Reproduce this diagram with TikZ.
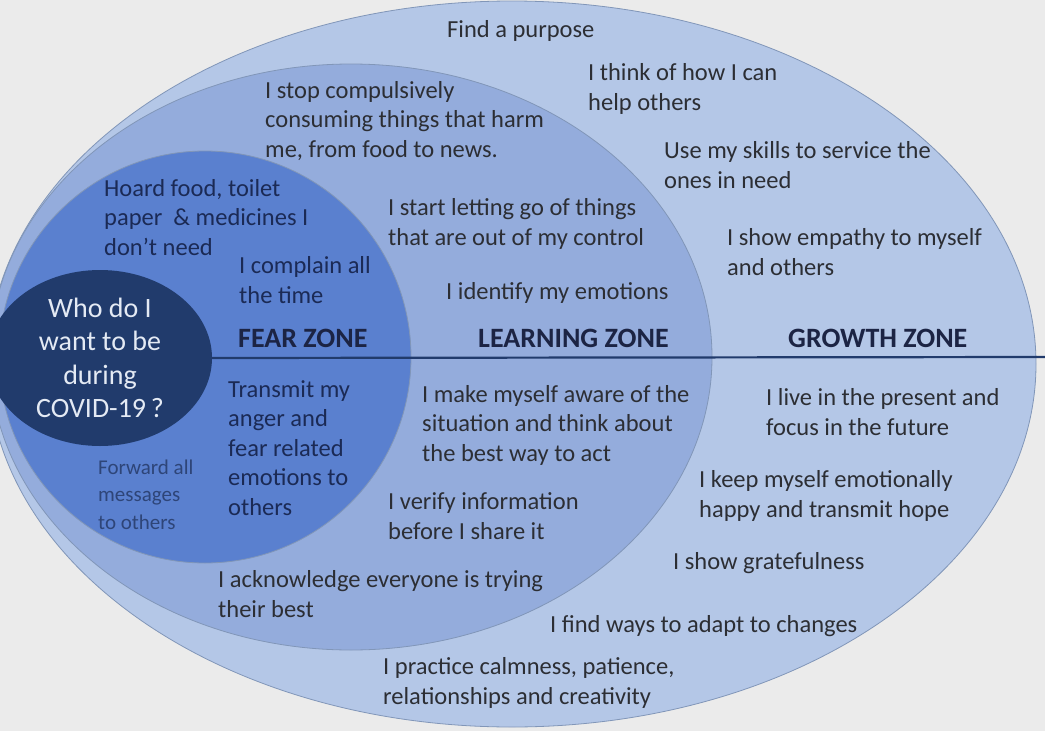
\documentclass[tikz,border=0pt]{standalone}
\usepackage{fontspec}
\setmainfont{Carlito}
\usetikzlibrary{shapes.geometric}
\definecolor{bggray}{HTML}{EBEBEB}
\definecolor{growthblue}{HTML}{B4C7E7}
\definecolor{learnblue}{HTML}{94ACDC}
\definecolor{fearblue}{HTML}{5A80CF}
\definecolor{corenavy}{HTML}{213B6C}
\definecolor{edgegray}{HTML}{8196B8}
\definecolor{corewhite}{HTML}{E4EAF4}
\definecolor{txtgray}{HTML}{2C2E34}
\definecolor{fearnavy}{HTML}{1B2A55}
\definecolor{fwdblue}{HTML}{2E4578}
\definecolor{lblnavy}{HTML}{1C2444}
\tikzset{
    zone/.style={draw=edgegray, line width=0.8pt},
    growth/.style={zone, fill=growthblue},
    learning/.style={zone, fill=learnblue},
    fear/.style={zone, fill=fearblue},
    core/.style={ellipse, fill=corenavy, text=corewhite, minimum width=224pt, minimum height=176pt, inner sep=0pt, align=center, font=\fontsize{28}{33.5}\selectfont},
    % anchor is the baseline of the last line
    item/.style={anchor=base west, inner sep=0pt, align=left, text=txtgray, font=\fontsize{24.5}{29.5}\selectfont},
    fearitem/.style={item, text=fearnavy},
    smallitem/.style={item, text=fwdblue, font=\fontsize{21}{27.5}\selectfont},
    zonelbl/.style={anchor=base west, inner sep=0pt, text=lblnavy, font=\bfseries\fontsize{28}{30}\selectfont},
    divider/.style={draw=corenavy, line width=2.2pt}
}

\begin{document}
\begin{tikzpicture}[x=1pt,y=-1pt]
    \useasboundingbox (0,0) rectangle (1045,731);
    \clip (0,0) rectangle (1045,731);
    \fill[bggray] (0,0) rectangle (1045,731);
    % zones, outer to inner
    \filldraw[growth] (512,364) ellipse [x radius=524pt, y radius=363pt];
    \filldraw[learning] (351,357) ellipse [x radius=361pt, y radius=293pt];
    \filldraw[fear] (205,357) circle [radius=206pt];
    \node[core] (core) at (100,358) {Who do I\\want to be\\during\\COVID-19\,?};
    \coordinate (rimend) at (1045,357);
    \draw[divider] (core.east) -- (rimend);
    % zone labels
    \node[zonelbl] (fearlbl) at (238,347) {FEAR ZONE};
    \node[zonelbl] (learnlbl) at (478,347) {LEARNING ZONE};
    \node[zonelbl] (growthlbl) at (788,347) {GROWTH ZONE};
    % growth zone
    \node[item] (purpose) at (447,37) {Find a purpose};
    \node[item] (helpothers) at (588,110) {I think of how I can\\help others};
    \node[item] (skills) at (664,188) {Use my skills to service the\\ones in need};
    \node[item] (empathy) at (727,275) {I show empathy to myself\\and others};
    \node[item] (present) at (766,435) {I live in the present and\\focus in the future};
    \node[item] (happy) at (699,517) {I keep myself emotionally\\happy and transmit hope};
    \node[item] (grateful) at (673,569) {I show gratefulness};
    \node[item] (adapt) at (550,632) {I find ways to adapt to changes};
    \node[item] (calmness) at (383,704) {I practice calmness, patience,\\relationships and creativity};
    % learning zone
    \node[item] (stopconsume) at (265,157) {I stop compulsively\\consuming things that harm\\me, from food to news.};
    \node[item] (lettinggo) at (388,245) {I start letting go of things\\that are out of my control};
    \node[item] (identify) at (446,299) {I identify my emotions};
    \node[item] (aware) at (422,461) {I make myself aware of the\\situation and think about\\the best way to act};
    \node[item] (verify) at (388,539) {I verify information\\before I share it};
    \node[item] (acknowledge) at (218,617) {I acknowledge everyone is trying\\their best};
    % fear zone
    \node[fearitem] (hoard) at (104,255) {Hoard food, toilet\\paper \ \&\ medicines I\\don’t need};
    \node[fearitem] (complain) at (239,303) {I complain all\\the time};
    \node[fearitem] (transmit) at (228,515) {Transmit my\\anger and\\fear related\\emotions to\\others};
    \node[smallitem] (forward) at (98,529) {Forward all\\messages\\to others};
\end{tikzpicture}
\end{document}
